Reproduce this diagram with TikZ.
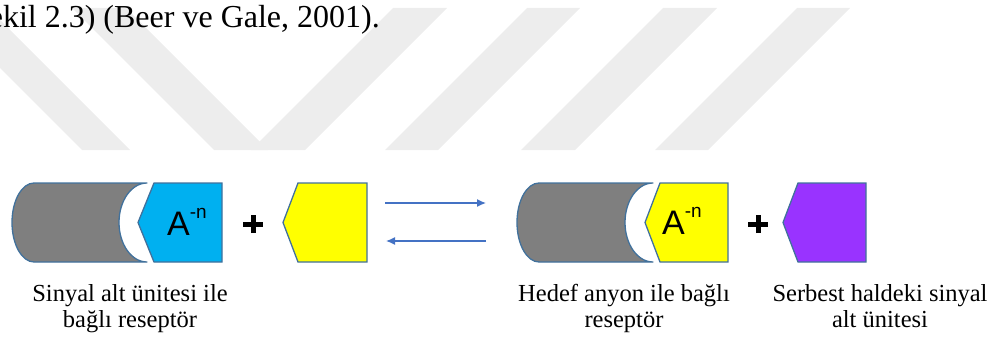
\documentclass[tikz,border=0pt]{standalone}
\usepackage{fontspec}
\setmainfont{Liberation Serif}
\newfontfamily\arialfont{Liberation Sans}
\usetikzlibrary{arrows.meta}
\definecolor{wm}{RGB}{237,237,237}
\definecolor{shapegray}{RGB}{127,127,127}
\definecolor{edgeblue}{RGB}{65,113,156}
\definecolor{cyanfill}{RGB}{0,176,240}
\definecolor{yellowfill}{RGB}{255,255,0}
\definecolor{purplefill}{RGB}{153,51,255}
\definecolor{arrowblue}{RGB}{68,114,196}
\tikzset{
  wmband/.style={fill=wm, draw=none},
  storedata/.style={fill=shapegray, draw=edgeblue, line width=1.3pt, line join=round},
  penta/.style={draw=edgeblue, line width=1.3pt, line join=miter},
  plussign/.style={line width=5pt, black},
  eqarrow/.style={draw=arrowblue, line width=1.3pt, -{Latex[length=9pt,width=8pt]}},
  anion/.style={font=\arialfont\fontsize{34}{34}\selectfont, inner sep=0pt, anchor=base west},
  caption/.style={font=\fontsize{24.5}{26}\selectfont, align=center, inner sep=0pt, anchor=base},
}
\newcommand{\anionlabel}{A\raisebox{17pt}{\fontsize{19}{19}\selectfont -n}}
\begin{document}
\begin{tikzpicture}[x=1pt,y=-1pt]
\useasboundingbox (0,0) rectangle (994,345);
% watermark bands
\begin{scope}
\clip (0,8) rectangle (994,150);
\fill[wmband] (-60,8) -- (-12,8) -- (130,150) -- (82,150) -- cycle;
\fill[wmband] (72,8) -- (126,8) -- (268,150) -- (214,150) -- cycle;
\fill[wmband] (393,8) -- (447,8) -- (305,150) -- (251,150) -- cycle;
\fill[wmband] (527,8) -- (580,8) -- (438,150) -- (385,150) -- cycle;
\fill[wmband] (663,8) -- (717,8) -- (575,150) -- (521,150) -- cycle;
\fill[wmband] (797,8) -- (850,8) -- (708,150) -- (655,150) -- cycle;
\end{scope}
% cut-off text line
\node[font=\fontsize{32}{32}\selectfont, inner sep=0pt, anchor=base east] (citation) at (380,28) {ekil 2.3) (Beer ve Gale, 2001).};
% left complex
\draw[storedata] (34,183) -- (147,183) arc[start angle=270, end angle=90, x radius=28, y radius=39.5] -- (34,262) arc[start angle=90, end angle=270, x radius=22, y radius=39.5] -- cycle;
\draw[penta, fill=cyanfill] (154,183) -- (222,183) -- (222,262) -- (154,262) -- (138,222.5) -- cycle;
\node[anion] (anion1) at (167,235) {\anionlabel};
% plus 1
\coordinate (p1) at (253,224);
\draw[plussign] ([yshift=-9pt]p1) -- ([yshift=9pt]p1);
\draw[plussign] ([xshift=-10pt]p1) -- ([xshift=10pt]p1);
% free yellow
\draw[penta, fill=yellowfill] (298,183) -- (367,183) -- (367,262) -- (298,262) -- (283,222.5) -- cycle;
% equilibrium arrows
\coordinate (fwdA) at (385,203);
\coordinate (fwdB) at (486,203);
\coordinate (revA) at (486,241);
\coordinate (revB) at (386,241);
\draw[eqarrow] (fwdA) -- (fwdB);
\draw[eqarrow] (revA) -- (revB);
% right complex
\draw[storedata] (539,183) -- (653,183) arc[start angle=270, end angle=90, x radius=28, y radius=39.5] -- (539,262) arc[start angle=90, end angle=270, x radius=22, y radius=39.5] -- cycle;
\draw[penta, fill=yellowfill] (660,183) -- (728,183) -- (728,262) -- (660,262) -- (645,222.5) -- cycle;
\node[anion] (anion2) at (662,234) {\anionlabel};
% plus 2
\coordinate (p2) at (758,224);
\draw[plussign] ([yshift=-9pt]p2) -- ([yshift=9pt]p2);
\draw[plussign] ([xshift=-10pt]p2) -- ([xshift=10pt]p2);
% purple
\draw[penta, fill=purplefill] (798,183) -- (866,183) -- (866,262) -- (798,262) -- (783,222.5) -- cycle;
% captions
\node[caption] (cap1) at (130,327) {Sinyal alt ünitesi ile\\bağlı reseptör};
\node[caption] (cap2) at (624,327) {Hedef anyon ile bağlı\\reseptör};
\node[caption] (cap3) at (880,327) {Serbest haldeki sinyal\\alt ünitesi};
\end{tikzpicture}
\end{document}
